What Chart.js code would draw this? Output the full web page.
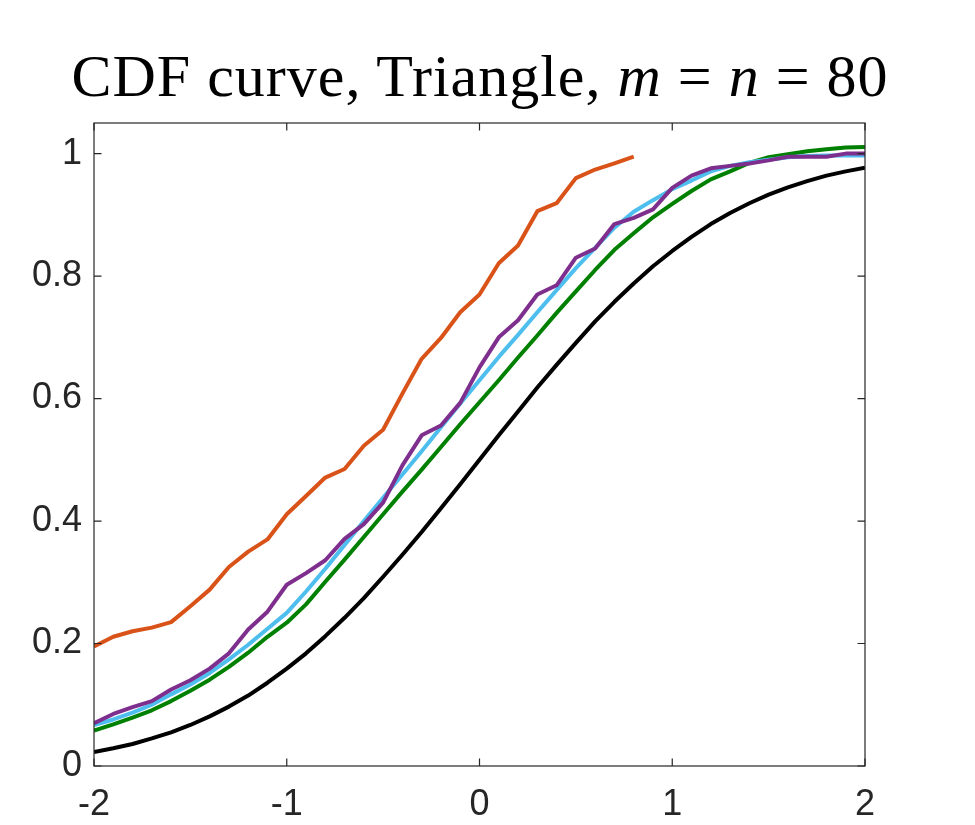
<!DOCTYPE html>
<html>
<head>
<meta charset="utf-8">
<script src="https://cdn.jsdelivr.net/npm/chart.js@4.4.1/dist/chart.umd.min.js"></script>
<style>
  html, body { margin: 0; padding: 0; background: #fff; }
  #wrap { position: relative; width: 975px; height: 825px; }
  #title { position: absolute; left: 0; top: 46px; width: 960px; text-align: center;
           font-family: "Liberation Serif", "DejaVu Serif", serif; font-size: 60px; letter-spacing: 1px;
           color: #000; line-height: 1; white-space: nowrap; }
  #title i { font-style: italic; }
  canvas { position: absolute; left: 0; top: 0; }
</style>
</head>
<body>
<div id="wrap">
  <canvas id="c" width="975" height="825"></canvas>
  <div id="title">CDF curve, Triangle, <i>m</i> = <i>n</i> = 80</div>
</div>
<script>
// x grid shared by all series (step 0.1)
const xs = [-2.0,-1.9,-1.8,-1.7,-1.6,-1.5,-1.4,-1.3,-1.2,-1.1,-1.0,-0.9,-0.8,-0.7,-0.6,-0.5,-0.4,-0.3,-0.2,-0.1,
            0.0,0.1,0.2,0.3,0.4,0.5,0.6,0.7,0.8,0.9,1.0,1.1,1.2,1.3,1.4,1.5,1.6,1.7,1.8,1.9,2.0];

// orange (x = -2 .. 0.8)
const orangeY = [0.195,0.211,0.220,0.226,0.235,0.261,0.288,0.325,0.350,0.370,0.411,0.441,0.471,0.485,0.523,0.549,
                 0.608,0.665,0.699,0.741,0.770,0.821,0.850,0.906,0.919,0.960,0.974,0.984,0.995];

// purple
const purpleY = [0.070,0.085,0.096,0.106,0.125,0.140,0.159,0.184,0.223,0.252,0.296,0.315,0.336,0.371,0.395,0.430,
                 0.491,0.540,0.556,0.593,0.651,0.700,0.728,0.770,0.785,0.830,0.845,0.885,0.895,0.909,0.944,0.964,
                 0.976,0.980,0.984,0.989,0.995,0.995,0.995,1.000,1.000];

// light blue
const cyanY = [0.067,0.076,0.087,0.100,0.117,0.133,0.152,0.174,0.198,0.224,0.250,0.285,0.322,0.361,0.400,0.438,
               0.476,0.514,0.553,0.592,0.630,0.668,0.704,0.741,0.777,0.813,0.846,0.879,0.905,0.924,0.942,0.956,
               0.971,0.980,0.986,0.990,0.994,0.996,0.997,0.997,0.997];

// green
const greenY = [0.058,0.068,0.079,0.091,0.106,0.123,0.141,0.162,0.185,0.211,0.234,0.264,0.301,0.337,0.374,0.411,
                0.448,0.484,0.521,0.558,0.594,0.630,0.667,0.703,0.740,0.775,0.810,0.843,0.870,0.896,0.918,0.939,
                0.958,0.971,0.985,0.994,0.999,1.004,1.007,1.010,1.011];

// black
const blackY = [0.023,0.029,0.036,0.045,0.055,0.067,0.081,0.097,0.115,0.136,0.159,0.184,0.212,0.242,0.274,0.309,
                0.345,0.382,0.421,0.460,0.500,0.540,0.579,0.618,0.655,0.691,0.726,0.758,0.788,0.816,0.841,0.864,
                0.885,0.903,0.919,0.933,0.945,0.955,0.964,0.971,0.977];

const xTicks = [-2,-1,0,1,2];
const yTicks = [0,0.2,0.4,0.6,0.8,1];

const toPts = ys => ys.map((y, i) => ({x: xs[i], y: y}));

const axisColor = '#262626';

const boxPlugin = {
  id: 'box',
  afterDraw(chart) {
    const {ctx, chartArea: a, scales: {x, y}} = chart;
    ctx.save();
    ctx.strokeStyle = axisColor;
    ctx.lineWidth = 1.2;
    ctx.strokeRect(a.left, a.top, a.right - a.left, a.bottom - a.top);
    const L = 7.5;
    ctx.beginPath();
    xTicks.forEach(v => {
      const p = x.getPixelForValue(v);
      ctx.moveTo(p, a.bottom); ctx.lineTo(p, a.bottom - L);
      ctx.moveTo(p, a.top); ctx.lineTo(p, a.top + L);
    });
    yTicks.forEach(v => {
      const p = y.getPixelForValue(v);
      ctx.moveTo(a.left, p); ctx.lineTo(a.left + L, p);
      ctx.moveTo(a.right, p); ctx.lineTo(a.right - L, p);
    });
    ctx.stroke();
    ctx.restore();
  }
};

const ds = (label, ys, color) => ({
  label, data: toPts(ys), borderColor: color, backgroundColor: color,
  borderWidth: 4, pointRadius: 0, tension: 0, fill: false,
  borderJoinStyle: 'round', borderCapStyle: 'butt'
});

new Chart(document.getElementById('c'), {
  type: 'line',
  data: {
    datasets: [
      ds('purple', purpleY, '#7E2F8E'),
      ds('orange', orangeY, '#D95319'),
      ds('cyan', cyanY, '#4DBEEE'),
      ds('green', greenY, '#008000'),
      ds('black', blackY, '#000000')
    ]
  },
  options: {
    responsive: false,
    animation: false,
    devicePixelRatio: 1,
    layout: { padding: { left: 0, right: 110, top: 123, bottom: 0 } },
    plugins: { legend: { display: false }, tooltip: { enabled: false }, title: { display: false } },
    scales: {
      x: {
        type: 'linear', min: -2, max: 2,
        afterBuildTicks: s => { s.ticks = xTicks.map(v => ({value: v})); },
        afterFit: s => { s.height = 59; },
        grid: { display: false, drawTicks: false },
        border: { display: false },
        ticks: { color: axisColor, padding: 17, maxRotation: 0,
                 font: { family: 'Liberation Sans, Arial, sans-serif', size: 36 } }
      },
      y: {
        type: 'linear', min: 0, max: 1.05,
        afterBuildTicks: s => { s.ticks = yTicks.map(v => ({value: v})); },
        afterFit: s => { s.width = 94; },
        grid: { display: false, drawTicks: false },
        border: { display: false },
        ticks: { color: axisColor, padding: 12,
                 callback: v => String(Math.round(v * 10) / 10),
                 font: { family: 'Liberation Sans, Arial, sans-serif', size: 36 } }
      }
    }
  },
  plugins: [boxPlugin]
});
</script>
</body>
</html>
